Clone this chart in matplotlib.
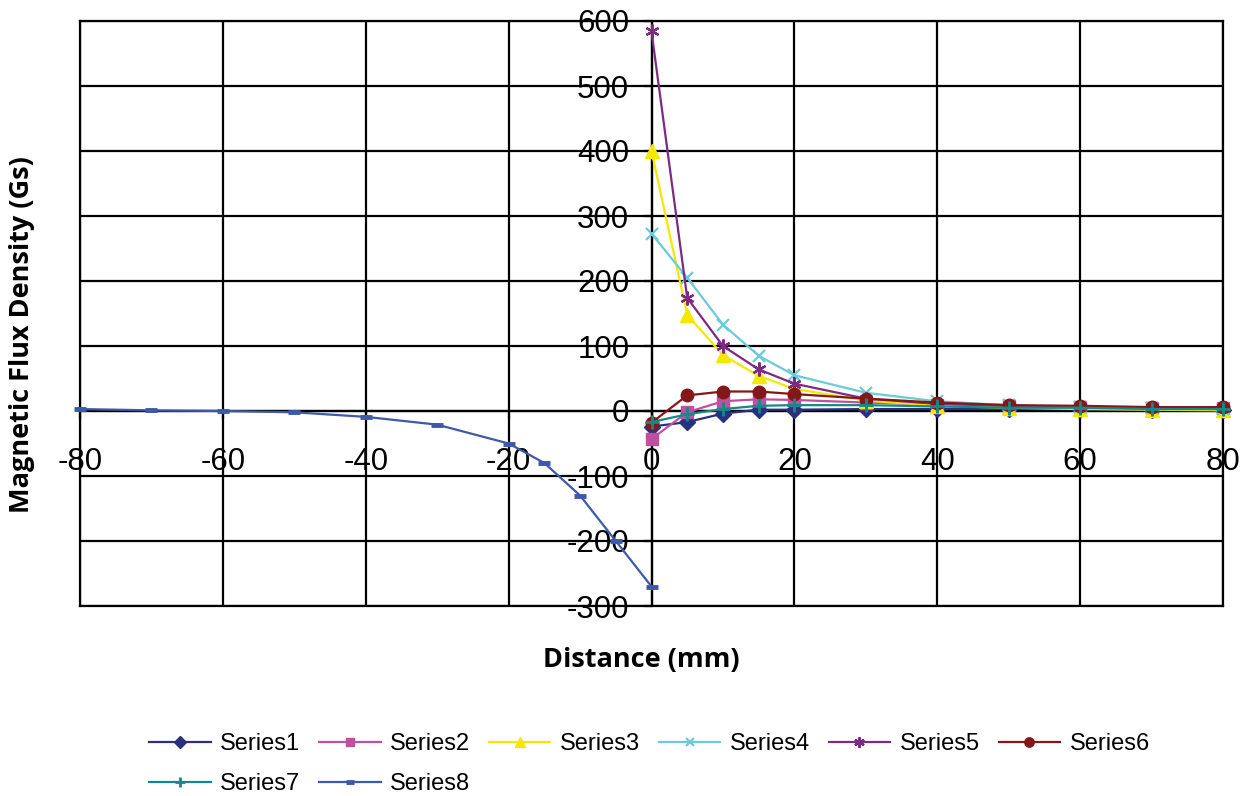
import matplotlib
matplotlib.use("Agg")
import matplotlib.pyplot as plt

plt.rcParams['axes.unicode_minus'] = False

# distances (mm) for the seven positive-side series
dist = [0, 5, 10, 15, 20, 30, 40, 50, 60, 70, 80]
series1 = [-24, -17, -4, 2, 2, 3, 3, 3, 3, 2, 2]
series2 = [-43, -2, 15, 18, 17, 13, 10, 8, 6, 5, 4]
series3 = [400, 148, 86, 54, 34, 16, 8, 5, 3, 2, 1]
series4 = [273, 205, 133, 85, 55, 28, 15, 9, 6, 5, 3]
series5 = [584, 174, 100, 64, 42, 19, 11, 8, 6, 5, 4]
series6 = [-18, 24, 30, 30, 26, 19, 13, 9, 8, 6, 6]
series7 = [-17, -5, 3, 8, 9, 9, 7, 5, 5, 3, 3]

# negative side
dist8 = [-80, -70, -60, -50, -40, -30, -20, -15, -10, -5, 0]
series8 = [3, 1, 0, -2, -9, -21, -50, -80, -130, -200, -270]

xticks = [-80, -60, -40, -20, 0, 20, 40, 60, 80]
yticks = [-300, -200, -100, 0, 100, 200, 300, 400, 500, 600]

tick_font = ['Liberation Sans Narrow', 'Liberation Sans', 'DejaVu Sans']
title_font = ['Open Sans', 'DejaVu Sans']

fig = plt.figure(figsize=(12.46, 7.96), dpi=100)
ax = fig.add_axes([80 / 1246, 1 - 606 / 796, (1223 - 80) / 1246, (606 - 21) / 796])

styles = [
    ("Series1", dist, series1, "#2a2f7e", "D", 8, {}),
    ("Series2", dist, series2, "#bf509f", "s", 8, {}),
    ("Series3", dist, series3, "#f5e800", "^", 10, {}),
    ("Series4", dist, series4, "#6ccbdb", "x", 8, {"markeredgewidth": 1.6}),
    ("Series5", dist, series5, "#7e2a84", (6, 2, 0), 10, {"markeredgewidth": 1.6}),
    ("Series6", dist, series6, "#861719", "o", 9, {}),
    ("Series7", dist, series7, "#138a88", "+", 10, {"markeredgewidth": 2}),
    ("Series8", dist8, series8, "#3d5aa9", "_", 8, {"markeredgewidth": 3.5}),
]

lines = {}
for name, xs, ys, col, mk, ms, extra in styles:
    (ln,) = ax.plot(xs, ys, color=col, lw=1.6, marker=mk, markersize=ms,
                    markerfacecolor=col, markeredgecolor=col, label=name,
                    zorder=3, clip_on=False, **extra)
    lines[name] = ln

ax.set_xlim(-80, 80)
ax.set_ylim(-300, 600)
ax.set_xticks(xticks)
ax.set_yticks(yticks)
ax.grid(True, color="black", lw=1.6)
ax.set_axisbelow(True)

# axes cross at the origin
for side in ["top", "right"]:
    ax.spines[side].set_linewidth(1.6)
ax.spines["left"].set_position(("data", 0))
ax.spines["bottom"].set_position(("data", 0))
ax.spines["left"].set_linewidth(1.6)
ax.spines["bottom"].set_linewidth(1.6)
ax.axvline(-80, color="black", lw=1.6, clip_on=False)
ax.axhline(-300, color="black", lw=1.6, clip_on=False)

ax.tick_params(axis="x", direction="out", length=6, width=1.6, pad=20)
ax.tick_params(axis="y", direction="out", length=6, width=1.6, pad=10)
for lab in ax.get_xticklabels() + ax.get_yticklabels():
    lab.set_family(tick_font)
    lab.set_fontsize(22.5)

fig.text(641 / 1246, 1 - 660 / 796, "Distance (mm)", ha="center", va="center",
         fontsize=19.5, fontweight="bold", family=title_font)
fig.text(22 / 1246, 1 - 335 / 796, "Magnetic Flux Density (Gs)", ha="center",
         va="center", rotation=90, fontsize=19.5, fontweight="bold", family=title_font)

order = ["Series1", "Series7", "Series2", "Series8",
         "Series3", "Series4", "Series5", "Series6"]
leg = fig.legend([lines[n] for n in order], order, ncol=6, loc="upper left",
                 bbox_to_anchor=(128 / 1246, 1 - 712 / 796), frameon=False,
                 prop={"family": tick_font, "size": 17}, handlelength=2.6,
                 columnspacing=0.8, handletextpad=0.4, labelspacing=0.75,
                 markerscale=0.75)

fig.savefig("out.png", dpi=100)
